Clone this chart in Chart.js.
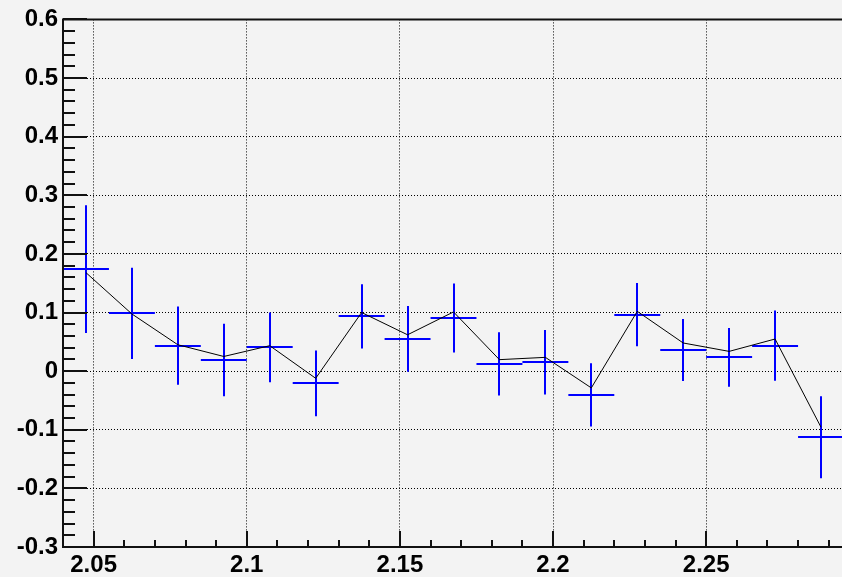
<!DOCTYPE html>
<html>
<head>
<meta charset="utf-8">
<script src="https://cdn.jsdelivr.net/npm/chart.js@4.4.0/dist/chart.umd.min.js"></script>
<style>
html, body { margin: 0; padding: 0; background: #f3f3f3; overflow: hidden; }
#wrap { position: absolute; left: 0; top: 0; width: 844px; height: 577px; }
</style>
</head>
<body>
<div id="wrap"><canvas id="grafico" width="844" height="577"></canvas></div>
<script>
// centri dei bin (larghezza 0.015)
var binCenters = [2.0475, 2.0625, 2.0775, 2.0925, 2.1075, 2.1225, 2.1375, 2.1525, 2.1675,
	2.1825, 2.1975, 2.2125, 2.2275, 2.2425, 2.2575, 2.2725, 2.2875];
var binHalfWidth = 0.0075;

// istogramma blu con errori
var histValues = [0.174, 0.0985, 0.0434, 0.019, 0.0405, -0.0208, 0.0934, 0.0549, 0.0906,
	0.0123, 0.015, -0.0405, 0.0963, 0.0361, 0.0235, 0.0434, -0.1128];
var histErrors = [0.109, 0.078, 0.0667, 0.062, 0.0596, 0.056, 0.055, 0.056, 0.059,
	0.054, 0.055, 0.054, 0.054, 0.053, 0.05, 0.06, 0.07];

// linea nera
var lineValues = [0.168, 0.0975, 0.045, 0.025, 0.0434, -0.0122, 0.100, 0.062, 0.101,
	0.0196, 0.0235, -0.0286, 0.102, 0.048, 0.0337, 0.0548, -0.0957];

var xTickValues = [2.05, 2.1, 2.15, 2.2, 2.25];
var yTickValues = [-0.3, -0.2, -0.1, 0, 0.1, 0.2, 0.3, 0.4, 0.5, 0.6];

var lineData = [];
for (var i = 0; i < binCenters.length; i++) {
	lineData.push({ x: binCenters[i], y: lineValues[i] });
}

// croci blu (barre d'errore)
var crociPlugin = {
	id: 'croci',
	beforeDatasetsDraw: function (chart) {
		var ctx = chart.ctx;
		var xs = chart.scales.x;
		var ys = chart.scales.y;
		var a = chart.chartArea;
		ctx.save();
		ctx.beginPath();
		ctx.rect(a.left, a.top, a.right - a.left, a.bottom - a.top);
		ctx.clip();
		ctx.strokeStyle = '#0000ff';
		ctx.lineWidth = 2;
		for (var i = 0; i < binCenters.length; i++) {
			var xc = Math.round(xs.getPixelForValue(binCenters[i]));
			var x0 = xs.getPixelForValue(binCenters[i] - binHalfWidth);
			var x1 = xs.getPixelForValue(binCenters[i] + binHalfWidth);
			var yc = Math.round(ys.getPixelForValue(histValues[i]));
			var yt = ys.getPixelForValue(histValues[i] + histErrors[i]);
			var yb = ys.getPixelForValue(histValues[i] - histErrors[i]);
			ctx.beginPath();
			ctx.moveTo(x0, yc);
			ctx.lineTo(x1, yc);
			ctx.moveTo(xc, yt);
			ctx.lineTo(xc, yb);
			ctx.stroke();
		}
		ctx.restore();
	}
};

// cornice e tacche verso l'interno
var cornicePlugin = {
	id: 'cornice',
	afterDraw: function (chart) {
		var ctx = chart.ctx;
		var xs = chart.scales.x;
		var ys = chart.scales.y;
		var a = chart.chartArea;
		ctx.save();
		ctx.strokeStyle = '#111';
		ctx.lineWidth = 2;
		ctx.beginPath();
		var v, p, k;
		for (k = 0; k <= 45; k++) {
			v = -0.3 + k * 0.02;
			p = Math.round(ys.getPixelForValue(v));
			var len = (k % 5 === 0) ? 24 : 12;
			ctx.moveTo(a.left, p);
			ctx.lineTo(a.left + len, p);
		}
		for (k = 0; k <= 25; k++) {
			v = 2.04 + k * 0.01;
			p = Math.round(xs.getPixelForValue(v));
			var lenx = (k % 5 === 1) ? 16 : 7;
			ctx.moveTo(p, a.bottom);
			ctx.lineTo(p, a.bottom - lenx);
		}
		ctx.stroke();
		ctx.beginPath();
		ctx.rect(a.left, a.top, a.right - a.left, a.bottom - a.top);
		ctx.stroke();
		ctx.restore();
	}
};

var fontTacche = { family: "'Liberation Sans', Arial, sans-serif", size: 24, weight: 'bold' };

var grafico = new Chart(document.getElementById('grafico'), {
	type: 'scatter',
	data: {
		datasets: [{
			data: lineData,
			showLine: true,
			borderColor: '#000',
			borderWidth: 1,
			pointRadius: 0,
			tension: 0
		}]
	},
	options: {
		responsive: false,
		devicePixelRatio: 1,
		animation: false,
		layout: { padding: { left: 0, top: 18, right: 0, bottom: 0 } },
		plugins: { legend: { display: false }, tooltip: { enabled: false } },
		scales: {
			x: {
				type: 'linear',
				min: 2.04,
				max: 2.295,
				afterBuildTicks: function (scale) {
					scale.ticks = xTickValues.map(function (v) { return { value: v }; });
				},
				afterFit: function (scale) { scale.height = 30; },
				ticks: {
					color: '#000',
					font: fontTacche,
					padding: 4,
					maxRotation: 0,
					autoSkip: false,
					callback: function (v) { return String(Math.round(v * 100) / 100); }
				},
				grid: { color: '#000', lineWidth: 1, drawTicks: false },
				border: { display: false, dash: [1, 2] }
			},
			y: {
				min: -0.3,
				max: 0.6,
				afterBuildTicks: function (scale) {
					scale.ticks = yTickValues.map(function (v) { return { value: v }; });
				},
				afterFit: function (scale) { scale.width = 63; },
				ticks: {
					color: '#000',
					font: fontTacche,
					padding: 5,
					autoSkip: false,
					callback: function (v) { return String(Math.round(v * 10) / 10); }
				},
				grid: { color: '#000', lineWidth: 1, drawTicks: false },
				border: { display: false, dash: [1, 2] }
			}
		}
	},
	plugins: [crociPlugin, cornicePlugin]
});
</script>
</body>
</html>
